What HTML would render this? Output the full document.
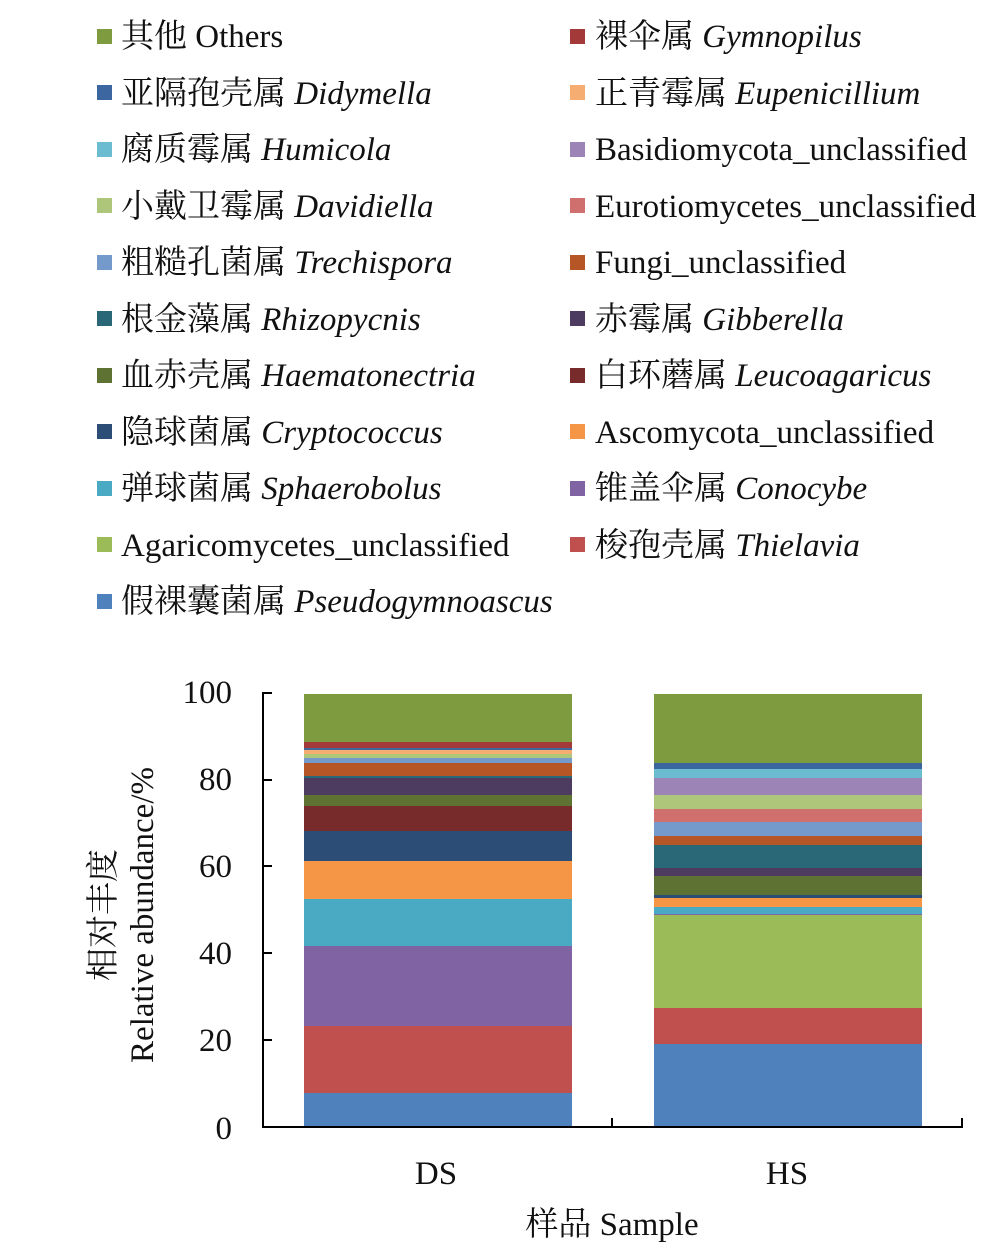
<!DOCTYPE html>
<html><head><meta charset="utf-8"><style>
html,body{margin:0;padding:0;background:#fff;}
svg text{font-family:"Liberation Serif","Noto Serif CJK SC",serif;fill:#111;}
</style></head><body>
<svg width="1007" height="1254" xmlns="http://www.w3.org/2000/svg">
<g font-size="33">
<rect x="97" y="29" width="15" height="15" fill="#7f9b3f"/><text x="121" y="47">其他 Others</text>
<rect x="97" y="85" width="15" height="15" fill="#3c66a0"/><text x="121" y="104">亚隔孢壳属 <tspan font-style="italic">Didymella</tspan></text>
<rect x="97" y="142" width="15" height="15" fill="#6bbcd0"/><text x="121" y="160">腐质霉属 <tspan font-style="italic">Humicola</tspan></text>
<rect x="97" y="198" width="15" height="15" fill="#aec679"/><text x="121" y="217">小戴卫霉属 <tspan font-style="italic">Davidiella</tspan></text>
<rect x="97" y="255" width="15" height="15" fill="#7499cb"/><text x="121" y="273">粗糙孔菌属 <tspan font-style="italic">Trechispora</tspan></text>
<rect x="97" y="311" width="15" height="15" fill="#2a6878"/><text x="121" y="330">根金藻属 <tspan font-style="italic">Rhizopycnis</tspan></text>
<rect x="97" y="368" width="15" height="15" fill="#5e7234"/><text x="121" y="386">血赤壳属 <tspan font-style="italic">Haematonectria</tspan></text>
<rect x="97" y="424" width="15" height="15" fill="#2c4e76"/><text x="121" y="443">隐球菌属 <tspan font-style="italic">Cryptococcus</tspan></text>
<rect x="97" y="481" width="15" height="15" fill="#4aaac4"/><text x="121" y="499">弹球菌属 <tspan font-style="italic">Sphaerobolus</tspan></text>
<rect x="97" y="537" width="15" height="15" fill="#9bbb59"/><text x="121" y="556">Agaricomycetes_unclassified</text>
<rect x="97" y="594" width="15" height="15" fill="#4f81bd"/><text x="121" y="612">假裸囊菌属 <tspan font-style="italic">Pseudogymnoascus</tspan></text>

<rect x="570" y="29" width="15" height="15" fill="#a33a39"/><text x="595" y="47">裸伞属 <tspan font-style="italic">Gymnopilus</tspan></text>
<rect x="570" y="85" width="15" height="15" fill="#f6ad72"/><text x="595" y="104">正青霉属 <tspan font-style="italic">Eupenicillium</tspan></text>
<rect x="570" y="142" width="15" height="15" fill="#9d84b6"/><text x="595" y="160">Basidiomycota_unclassified</text>
<rect x="570" y="198" width="15" height="15" fill="#d0706e"/><text x="595" y="217">Eurotiomycetes_unclassified</text>
<rect x="570" y="255" width="15" height="15" fill="#b65626"/><text x="595" y="273">Fungi_unclassified</text>
<rect x="570" y="311" width="15" height="15" fill="#4e3b60"/><text x="595" y="330">赤霉属 <tspan font-style="italic">Gibberella</tspan></text>
<rect x="570" y="368" width="15" height="15" fill="#772c2b"/><text x="595" y="386">白环蘑属 <tspan font-style="italic">Leucoagaricus</tspan></text>
<rect x="570" y="424" width="15" height="15" fill="#f49646"/><text x="595" y="443">Ascomycota_unclassified</text>
<rect x="570" y="481" width="15" height="15" fill="#8063a2"/><text x="595" y="499">锥盖伞属 <tspan font-style="italic">Conocybe</tspan></text>
<rect x="570" y="537" width="15" height="15" fill="#c0504d"/><text x="595" y="556">梭孢壳属 <tspan font-style="italic">Thielavia</tspan></text>
</g>

<g>
<rect x="304" y="694" width="268" height="48" fill="#7f9b3f"/>
<rect x="304" y="742" width="268" height="6" fill="#a33a39"/>
<rect x="304" y="748" width="268" height="2" fill="#3c66a0"/>
<rect x="304" y="750" width="268" height="4" fill="#f6ad72"/>
<rect x="304" y="754" width="268" height="4" fill="#aec679"/>
<rect x="304" y="758" width="268" height="5" fill="#7499cb"/>
<rect x="304" y="763" width="268" height="13" fill="#b65626"/>
<rect x="304" y="776" width="268" height="2" fill="#2a6878"/>
<rect x="304" y="778" width="268" height="17" fill="#4e3b60"/>
<rect x="304" y="795" width="268" height="11" fill="#5e7234"/>
<rect x="304" y="806" width="268" height="25" fill="#772c2b"/>
<rect x="304" y="831" width="268" height="30" fill="#2c4e76"/>
<rect x="304" y="861" width="268" height="38" fill="#f49646"/>
<rect x="304" y="899" width="268" height="47" fill="#4aaac4"/>
<rect x="304" y="946" width="268" height="80" fill="#8063a2"/>
<rect x="304" y="1026" width="268" height="67" fill="#c0504d"/>
<rect x="304" y="1093" width="268" height="34" fill="#4f81bd"/>
</g>
<g>
<rect x="654" y="694" width="268" height="69" fill="#7f9b3f"/>
<rect x="654" y="763" width="268" height="6" fill="#3c66a0"/>
<rect x="654" y="769" width="268" height="9" fill="#6bbcd0"/>
<rect x="654" y="778" width="268" height="17" fill="#9d84b6"/>
<rect x="654" y="795" width="268" height="14" fill="#aec679"/>
<rect x="654" y="809" width="268" height="13" fill="#d0706e"/>
<rect x="654" y="822" width="268" height="14" fill="#7499cb"/>
<rect x="654" y="836" width="268" height="9" fill="#b65626"/>
<rect x="654" y="845" width="268" height="23" fill="#2a6878"/>
<rect x="654" y="868" width="268" height="8" fill="#4e3b60"/>
<rect x="654" y="876" width="268" height="19" fill="#5e7234"/>
<rect x="654" y="895" width="268" height="3" fill="#2c4e76"/>
<rect x="654" y="898" width="268" height="9" fill="#f49646"/>
<rect x="654" y="907" width="268" height="7" fill="#4aaac4"/>
<rect x="654" y="914" width="268" height="1" fill="#8063a2"/>
<rect x="654" y="915" width="268" height="93" fill="#9bbb59"/>
<rect x="654" y="1008" width="268" height="36" fill="#c0504d"/>
<rect x="654" y="1044" width="268" height="83" fill="#4f81bd"/>
</g>

<g stroke="#000" stroke-width="2" fill="none">
<line x1="263" y1="692" x2="263" y2="1128"/>
<line x1="262" y1="1127" x2="963" y2="1127"/>
<line x1="263" y1="693" x2="272" y2="693"/>
<line x1="263" y1="780" x2="272" y2="780"/>
<line x1="263" y1="866" x2="272" y2="866"/>
<line x1="263" y1="953" x2="272" y2="953"/>
<line x1="263" y1="1040" x2="272" y2="1040"/>
<line x1="612" y1="1118" x2="612" y2="1127"/>
<line x1="962" y1="1118" x2="962" y2="1127"/>
</g>
<g font-size="33" text-anchor="end">
<text x="232" y="703">100</text>
<text x="232" y="790">80</text>
<text x="232" y="877">60</text>
<text x="232" y="964">40</text>
<text x="232" y="1051">20</text>
<text x="232" y="1139">0</text>
</g>
<g font-size="33" text-anchor="middle">
<text x="436" y="1184">DS</text>
<text x="787" y="1184">HS</text>
<text x="612" y="1235">样品 Sample</text>
<text transform="translate(114,915) rotate(-90)">相对丰度</text>
<text transform="translate(153,915) rotate(-90)">Relative abundance/%</text>
</g>
</svg>
</body></html>
